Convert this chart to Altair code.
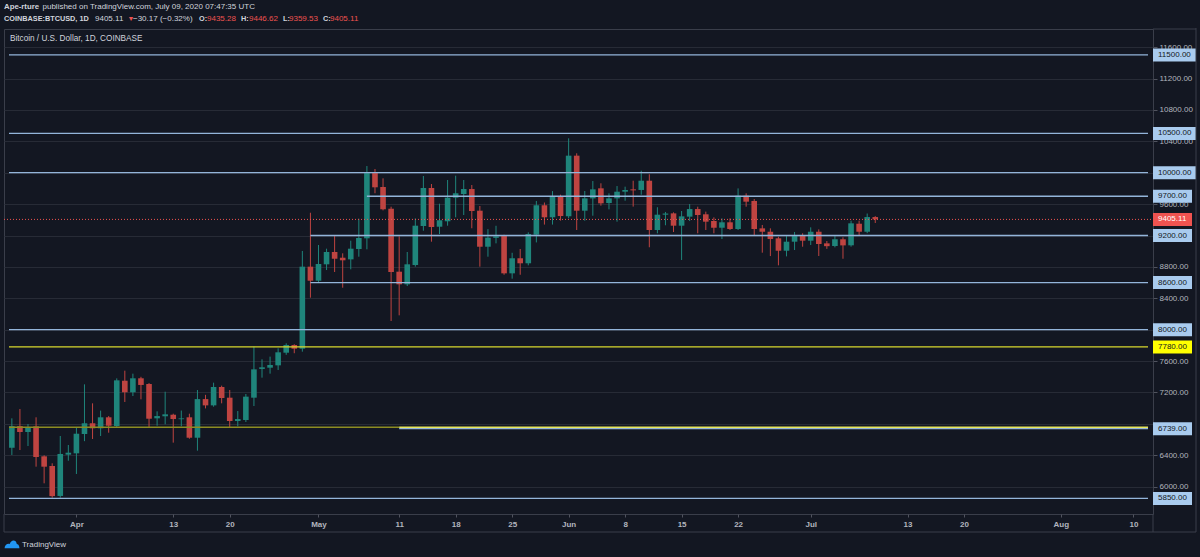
import altair as alt
import pandas as pd

# ---------------- data ----------------
first_day = "2020-03-24"
opens = [6496, 6772, 6697, 6769, 6387, 6264, 5882, 6408, 6425, 6671,
         6808, 6744, 6884, 6773, 7350, 7203, 7381, 7308, 6871, 6897,
         6917, 6860, 6884, 6624, 7116, 7036, 7270, 7134, 6837, 6850,
         7134, 7500, 7516, 7546, 7707, 7805, 7758, 8803, 8624, 8833,
         8990, 8917, 8896, 9028, 9164, 10005, 9818, 9541, 8739, 8578,
         8824, 9321, 9805, 9312, 9381, 9682, 9729, 9792, 9516, 9057,
         9170, 9194, 8718, 8910, 8846, 9210, 9585, 9432, 9703, 9445,
         10217, 9516, 9673, 9801, 9614, 9673, 9758, 9788, 9780, 9898,
         9270, 9465, 9482, 9325, 9440, 9537, 9470, 9385, 9299, 9368,
         9283, 9707, 9640, 9291, 9248, 9164, 9006, 9121, 9194, 9134,
         9248, 9100, 9066, 9152, 9075, 9350, 9248, 9435.28]
highs = [6871, 6990, 6798, 6884, 6400, 6298, 6646, 6531, 6748, 7304,
         7062, 6969, 6900, 7380, 7478, 7440, 7400, 7320, 6960, 7210,
         6930, 6970, 6930, 7232, 7170, 7325, 7287, 7232, 6964, 7181,
         7783, 7623, 7657, 7763, 7826, 7815, 9003, 9490, 9079, 9032,
         9202, 8973, 9134, 9414, 10085, 10047, 9928, 9567, 9190, 8990,
         9418, 9958, 9856, 9605, 9907, 9962, 9907, 9843, 9576, 9281,
         9324, 9210, 8980, 9028, 9240, 9640, 9620, 9766, 9720, 10438,
         10247, 9767, 9894, 9865, 9737, 9830, 9822, 9898, 10025, 9980,
         9560, 9500, 9495, 9512, 9601, 9567, 9504, 9431, 9418, 9418,
         9800, 9737, 9665, 9334, 9291, 9185, 9198, 9245, 9228, 9304,
         9278, 9130, 9194, 9177, 9389, 9389, 9480, 9446.62]
lows = [6404, 6467, 6518, 6255, 6043, 5860, 5860, 6331, 6162, 6580,
        6608, 6646, 6688, 6760, 7079, 7155, 7113, 6757, 6777, 6795,
        6561, 6770, 6611, 6459, 6997, 7019, 7062, 6757, 6770, 6824,
        7028, 7389, 7440, 7487, 7680, 7700, 7720, 8408, 8600, 8760,
        8735, 8535, 8769, 8930, 9024, 9738, 9520, 8111, 8183, 8556,
        8803, 9261, 9121, 9219, 9325, 9432, 9461, 9292, 8803, 8930,
        9100, 8700, 8650, 8700, 8820, 9112, 9339, 9339, 9390, 9420,
        9270, 9388, 9452, 9580, 9533, 9376, 9643, 9568, 9720, 9050,
        9228, 9330, 9244, 8888, 9384, 9228, 9270, 9228, 9155, 9270,
        9270, 9567, 9198, 8981, 8938, 8820, 8934, 9015, 9057, 9079,
        8939, 9030, 9049, 8904, 9058, 9194, 9230, 9359.53]
closes = [6772, 6697, 6760, 6378, 6255, 5880, 6417, 6433, 6675, 6808,
          6744, 6884, 6777, 7355, 7203, 7381, 7296, 6866, 6900, 6922,
          6862, 6870, 6624, 7116, 7036, 7270, 7130, 6837, 6862, 7147,
          7495, 7521, 7550, 7712, 7805, 7758, 8803, 8624, 8837, 8990,
          8904, 8884, 9032, 9168, 10005, 9814, 9534, 8735, 8578, 8833,
          9325, 9805, 9308, 9394, 9682, 9738, 9792, 9512, 9057, 9172,
          9190, 8718, 8910, 8846, 9219, 9585, 9432, 9703, 9448, 10217,
          9516, 9673, 9788, 9610, 9673, 9758, 9780, 9775, 9898, 9270,
          9465, 9480, 9325, 9444, 9537, 9461, 9376, 9299, 9368, 9283,
          9707, 9631, 9283, 9248, 9155, 9006, 9121, 9194, 9134, 9248,
          9092, 9064, 9152, 9074, 9355, 9248, 9435, 9405.11]

# horizontal levels drawn by the author ("" = from the left edge)
level_prices = [11500, 10500, 10000, 9700, 9200, 8600, 8000, 6739, 5850]
level_starts = ["", "", "", "2020-05-07", "2020-04-30", "2020-04-30", "", "2020-05-11", ""]
yellow_prices = [7780, 6757, 6757]
yellow_starts = ["", "", "2020-05-11"]
yellow_ends = ["", "2020-05-11", ""]
yellow_colors = ["#d9d92e", "#8c8c22", "#e6e65a"]

box_prices = [11500, 10500, 10000, 9700, 9200, 8600, 8000, 7780, 6739, 5850, 9405.11]
box_kind = ["lvl", "lvl", "lvl", "lvl", "lvl", "lvl", "lvl", "yel", "lvl", "lvl", "last"]

tick_dates = ["2020-04-01", "2020-04-13", "2020-04-20", "2020-05-01", "2020-05-11",
              "2020-05-18", "2020-05-25", "2020-06-01", "2020-06-08", "2020-06-15",
              "2020-06-22", "2020-07-01", "2020-07-13", "2020-07-20", "2020-08-01",
              "2020-08-10"]
price_ticks = list(range(6000, 11601, 400))
hidden_price_labels = [10000, 9200, 8000, 6800]  # fully covered by level boxes

# ---------------- helpers ----------------
BG = "#131722"
FONT = "Liberation Sans"
TXT = "#d1d4dc"
AX = "#b2b5be"
UP, DOWN = "#26a69a", "#ef5350"
UPW, DOWNW = "#1f857b", "#bf4441"
LVL = "#93b5da"
BOX = "#a9cbee"
FRAME = "#3a3e4a"
DAY = 86400000


def ms(s):
    return int(pd.Timestamp(s).tz_localize("UTC").value // 10**6)


def iso(m):
    return pd.Timestamp(int(m), unit="ms").strftime("%Y-%m-%dT%H:%M:%SZ")


X_LEFT = ms("2020-04-01") - 8.354 * DAY
X_RIGHT = ms("2020-04-01") + 132.8 * DAY
W, H = 1149, 485

days = pd.date_range(first_day, periods=len(opens), freq="D")
df = pd.DataFrame({
    "date": [d.strftime("%Y-%m-%dT00:00:00Z") for d in days],
    "open": opens, "high": highs, "low": lows, "close": closes,
})
df["dir"] = ["up" if c >= o else "down" for o, c in zip(opens, closes)]

xscale = alt.Scale(type="utc", domain=[X_LEFT, X_RIGHT], nice=False)
xaxis = alt.Axis(values=[ms(d) for d in tick_dates], tickCount=40,
                 labelExpr="utcdate(datum.value) == 1 ? utcFormat(datum.value, '%b') : utcFormat(datum.value, '%-d')",
                 title=None, grid=False, domain=False, tickSize=3, tickColor="#50535e",
                 labelPadding=3, labelFontSize=8, labelFontWeight="bold", labelColor=AX,
                 labelOverlap=False, labelFlush=False, labelFont=FONT)
yscale = alt.Scale(domain=[5652.2, 11830.6], nice=False, zero=False)
hidden_expr = "[" + ",".join(str(v) for v in hidden_price_labels) + "]"
yaxis = alt.Axis(orient="right", values=price_ticks, tickCount=40, title=None,
                 labelExpr=f"indexof({hidden_expr}, datum.value) >= 0 ? '' : format(datum.value, '.2f')",
                 grid=True, gridColor="#272b36", domain=False, tickSize=4,
                 tickColor="#50535e", labelPadding=2, labelFontSize=8, labelColor=AX,
                 labelOverlap=False, labelFlush=False, labelFont=FONT)

X = alt.X("date:T", scale=xscale, axis=xaxis)
Y = alt.Y("low:Q", scale=yscale, axis=yaxis)

base = alt.Chart(df)
wicks = base.mark_rule(strokeWidth=1).encode(
    x=X, y=Y, y2="high:Q",
    color=alt.Color("dir:N", scale=alt.Scale(domain=["up", "down"], range=[UPW, DOWNW]), legend=None))
bodies = base.mark_bar(size=5.6).encode(
    x=X, y=alt.Y("open:Q", scale=yscale, axis=yaxis), y2="close:Q",
    color=alt.Color("dir:N", scale=alt.Scale(domain=["up", "down"], range=[UP, DOWN]), legend=None))

lv = pd.DataFrame({
    "price": level_prices,
    "start": [iso(ms(s)) if s else iso(X_LEFT) for s in level_starts],
    "end": [iso(X_RIGHT)] * len(level_prices),
})
levels = alt.Chart(lv).mark_rule(color=LVL, strokeWidth=1.3).encode(
    x=alt.X("start:T", scale=xscale, axis=xaxis), x2="end:T",
    y=alt.Y("price:Q", scale=yscale, axis=yaxis))

yl = pd.DataFrame({
    "price": yellow_prices,
    "start": [iso(ms(s)) if s else iso(X_LEFT) for s in yellow_starts],
    "end": [iso(ms(s)) if s else iso(X_RIGHT) for s in yellow_ends],
    "c": yellow_colors,
})
yellows = alt.Chart(yl).mark_rule(strokeWidth=1.3).encode(
    x=alt.X("start:T", scale=xscale, axis=xaxis), x2="end:T",
    y=alt.Y("price:Q", scale=yscale, axis=yaxis),
    color=alt.Color("c:N", scale=None))

last_close = closes[-1]
lastline = alt.Chart(pd.DataFrame({"p": [last_close]})).mark_rule(
    color=DOWN, strokeWidth=1, strokeDash=[1, 2]).encode(
    x=alt.value(0), x2=alt.value(W), y=alt.Y("p:Q", scale=yscale, axis=yaxis))

fills = {"lvl": BOX, "yel": "#ffff00", "last": DOWN}
tcols = {"lvl": "#131722", "yel": "#131722", "last": "#ffffff"}
bx = pd.DataFrame({
    "price": box_prices,
    "label": [f"{p:.2f}" for p in box_prices],
    "fill": [fills[k] for k in box_kind],
    "tc": [tcols[k] for k in box_kind],
})
boxes_wide = alt.Chart(bx[bx.price >= 10000]).mark_rule(strokeWidth=13, strokeCap="butt").encode(
    x=alt.value(W), x2=alt.value(W + 43),
    y=alt.Y("price:Q", scale=yscale, axis=yaxis), color=alt.Color("fill:N", scale=None))
boxes_narrow = alt.Chart(bx[bx.price < 10000]).mark_rule(strokeWidth=13, strokeCap="butt").encode(
    x=alt.value(W), x2=alt.value(W + 39),
    y=alt.Y("price:Q", scale=yscale, axis=yaxis), color=alt.Color("fill:N", scale=None))
box_text = alt.Chart(bx).mark_text(align="left", baseline="middle", fontSize=8, font=FONT).encode(
    x=alt.value(W + 5), y=alt.Y("price:Q", scale=yscale, axis=yaxis), text="label:N",
    color=alt.Color("tc:N", scale=None))


def txt(s, x, y, color=TXT, size=8, weight="normal", align="left"):
    return alt.Chart(pd.DataFrame({"t": [s]})).mark_text(
        align=align, baseline="middle", fontSize=size, fontWeight=weight, font=FONT, color=color
    ).encode(x=alt.value(x), y=alt.value(y), text="t:N")


def rule(x, x2, y, y2, color=FRAME):
    return alt.Chart(pd.DataFrame({"a": [0]})).mark_rule(color=color, strokeWidth=1).encode(
        x=alt.value(x), x2=alt.value(x2), y=alt.value(y), y2=alt.value(y2))


header = [
    txt("Ape-rture", 0, -22, weight="bold", size=7.8),
    txt("published on TradingView.com, July 09, 2020 07:47:35 UTC", 38.5, -22),
    txt("COINBASE:BTCUSD, 1D", 0, -10, weight="bold", size=7.3),
    txt("9405.11", 91, -10),
    txt("▼", 123.5, -10, color=DOWN, size=7),
    txt("−30.17 (−0.32%)", 129, -10),
    txt("O:", 195, -10, weight="bold", size=7.3),
    txt("9435.28", 203, -10, color=DOWN),
    txt("H:", 237, -10, weight="bold", size=7.3),
    txt("9446.62", 245, -10, color=DOWN),
    txt("L:", 279, -10, weight="bold", size=7.3),
    txt("9359.53", 285, -10, color=DOWN),
    txt("C:", 319, -10, weight="bold", size=7.3),
    txt("9405.11", 326, -10, color=DOWN),
    txt("Bitcoin / U.S. Dollar, 1D, COINBASE", 6, 10, size=8.2),
    txt("TradingView", 18, 516, size=8),
]

logo = alt.Chart(pd.DataFrame({"a": [0]})).mark_point(
    shape="M-1,0.45 C-1,0 -0.65,-0.25 -0.3,-0.15 C-0.15,-0.75 0.55,-0.8 0.65,-0.15 C0.95,-0.1 1,0.2 1,0.45 Z",
    filled=True, color="#2196f3", opacity=1, size=220).encode(x=alt.value(8), y=alt.value(516))

frame = [
    rule(W + 43, W + 43, -1, 503),
    rule(0, W + 43, 503, 503),
    rule(0, 0, H, 503),
    rule(W, W + 43, 0, 0),
    rule(W, W, H, 503),
]

chart = alt.layer(
    wicks, bodies, levels, yellows, lastline, boxes_wide, boxes_narrow, box_text,
    logo, *header, *frame
).properties(
    width=W, height=H, background=BG,
    padding={"left": 4, "top": 29, "right": 47, "bottom": 43},
    autosize=alt.AutoSizeParams(type="none"),
).configure_view(stroke=FRAME, strokeWidth=1)

chart.save("out.html", embed_options={"renderer": "svg", "actions": False})
